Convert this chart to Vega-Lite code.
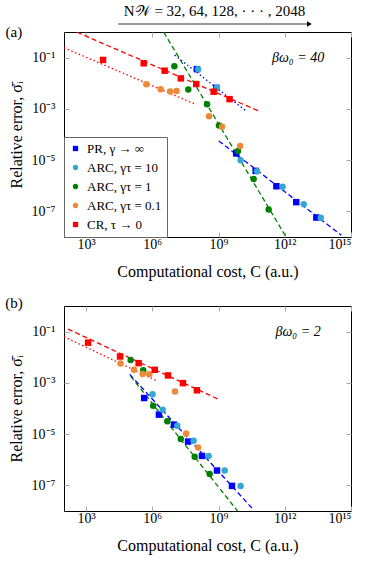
{
  "$schema": "https://vega.github.io/schema/vega-lite/v6.json",
  "padding": {"left": 4, "top": 3, "right": 4, "bottom": 4},
  "spacing": 15,
  "config": {
    "font": "Liberation Serif",
    "view": {"stroke": "black", "strokeWidth": 1},
    "axis": {"grid": false, "domain": false, "tickColor": "#aaaaaa", "tickSize": -5, "labelFontSize": 14, "titleFontSize": 16, "labelColor": "black", "titleColor": "black", "titleFontWeight": "normal"},
    "axisX": {"labelPadding": 5, "titlePadding": 12},
    "axisY": {"labelPadding": 14, "titlePadding": 7},
    "text": {"font": "Liberation Serif"}
  },
  "resolve": {"scale": {"color": "independent", "shape": "independent", "stroke": "independent", "strokeDash": "independent"}},
  "datasets": {
    "ptsA": [
      {"series": "PR, γ → ∞", "C": 1.047e8, "err": 3.548e-2},
      {"series": "PR, γ → ∞", "C": 7.943e8, "err": 6.607e-3},
      {"series": "PR, γ → ∞", "C": 6.310e9, "err": 1.820e-5},
      {"series": "PR, γ → ∞", "C": 4.786e10, "err": 3.802e-6},
      {"series": "PR, γ → ∞", "C": 4.169e11, "err": 9.550e-7},
      {"series": "PR, γ → ∞", "C": 3.311e12, "err": 2.291e-7},
      {"series": "PR, γ → ∞", "C": 2.692e13, "err": 5.754e-8},
      {"series": "ARC, γτ = 10", "C": 1.175e8, "err": 3.548e-2},
      {"series": "ARC, γτ = 10", "C": 8.511e8, "err": 6.607e-3},
      {"series": "ARC, γτ = 10", "C": 1.0e10, "err": 1.0e-5},
      {"series": "ARC, γτ = 10", "C": 5.495e10, "err": 3.715e-6},
      {"series": "ARC, γτ = 10", "C": 7.943e11, "err": 9.120e-7},
      {"series": "ARC, γτ = 10", "C": 7.244e12, "err": 1.905e-7},
      {"series": "ARC, γτ = 10", "C": 4.266e13, "err": 5.623e-8},
      {"series": "ARC, γτ = 1", "C": 1.0e7, "err": 4.571e-2},
      {"series": "ARC, γτ = 1", "C": 4.266e7, "err": 5.754e-3},
      {"series": "ARC, γτ = 1", "C": 3.020e8, "err": 1.514e-3},
      {"series": "ARC, γτ = 1", "C": 1.047e9, "err": 2.239e-4},
      {"series": "ARC, γτ = 1", "C": 7.586e9, "err": 2.291e-5},
      {"series": "ARC, γτ = 1", "C": 3.890e10, "err": 1.820e-6},
      {"series": "ARC, γτ = 1", "C": 1.862e11, "err": 1.175e-7},
      {"series": "ARC, γτ = 0.1", "C": 5.370e5, "err": 9.120e-3},
      {"series": "ARC, γτ = 0.1", "C": 2.399e6, "err": 5.888e-3},
      {"series": "ARC, γτ = 0.1", "C": 6.457e6, "err": 4.786e-3},
      {"series": "ARC, γτ = 0.1", "C": 1.259e7, "err": 5.012e-3},
      {"series": "ARC, γτ = 0.1", "C": 3.715e8, "err": 5.129e-4},
      {"series": "ARC, γτ = 0.1", "C": 1.445e9, "err": 1.995e-4},
      {"series": "ARC, γτ = 0.1", "C": 9.550e9, "err": 3.548e-5},
      {"series": "CR, τ → 0", "C": 5.888e3, "err": 8.128e-2},
      {"series": "CR, τ → 0", "C": 4.074e5, "err": 6.026e-2},
      {"series": "CR, τ → 0", "C": 3.631e6, "err": 3.090e-2},
      {"series": "CR, τ → 0", "C": 1.950e7, "err": 1.549e-2},
      {"series": "CR, τ → 0", "C": 9.772e7, "err": 9.333e-3},
      {"series": "CR, τ → 0", "C": 6.026e8, "err": 4.677e-3},
      {"series": "CR, τ → 0", "C": 3.162e9, "err": 2.399e-3}
    ],
    "linesA": [
      {"id": "a1", "series": "CR, τ → 0", "line": "fit", "C": 3.890e2, "err": 0.9772},
      {"id": "a1", "series": "CR, τ → 0", "line": "fit", "C": 7.762e10, "err": 7.762e-4},
      {"id": "a2", "series": "CR, τ → 0", "line": "reference", "C": 1.0e2, "err": 0.2432},
      {"id": "a2", "series": "CR, τ → 0", "line": "reference", "C": 8.318e7, "err": 1.549e-3},
      {"id": "a3", "series": "ARC, γτ = 1", "line": "fit", "C": 3.311e6, "err": 0.9772},
      {"id": "a3", "series": "ARC, γτ = 1", "line": "fit", "C": 1.148e12, "err": 1.0e-8},
      {"id": "a4", "series": "PR, γ → ∞", "line": "reference", "C": 1.023e7, "err": 0.1259},
      {"id": "a4", "series": "PR, γ → ∞", "line": "reference", "C": 1.820e10, "err": 8.128e-4},
      {"id": "a5", "series": "PR, γ → ∞", "line": "fit", "C": 1.023e9, "err": 5.623e-5},
      {"id": "a5", "series": "PR, γ → ∞", "line": "fit", "C": 3.631e14, "err": 1.175e-8}
    ],
    "ptsB": [
      {"series": "PR, γ → ∞", "C": 4.266e5, "err": 2.570e-4},
      {"series": "PR, γ → ∞", "C": 1.995e6, "err": 5.754e-5},
      {"series": "PR, γ → ∞", "C": 9.550e6, "err": 2.344e-5},
      {"series": "PR, γ → ∞", "C": 4.169e7, "err": 5.129e-6},
      {"series": "PR, γ → ∞", "C": 1.778e8, "err": 1.413e-6},
      {"series": "PR, γ → ∞", "C": 8.511e8, "err": 3.802e-7},
      {"series": "PR, γ → ∞", "C": 4.074e9, "err": 9.550e-8},
      {"series": "ARC, γτ = 10", "C": 1.023e6, "err": 3.631e-4},
      {"series": "ARC, γτ = 10", "C": 2.951e6, "err": 8.913e-5},
      {"series": "ARC, γτ = 10", "C": 1.349e7, "err": 2.138e-5},
      {"series": "ARC, γτ = 10", "C": 7.413e7, "err": 5.495e-6},
      {"series": "ARC, γτ = 10", "C": 3.548e8, "err": 1.413e-6},
      {"series": "ARC, γτ = 10", "C": 1.905e9, "err": 3.802e-7},
      {"series": "ARC, γτ = 10", "C": 1.0e10, "err": 9.550e-8},
      {"series": "ARC, γτ = 1", "C": 1.047e5, "err": 7.762e-3},
      {"series": "ARC, γτ = 1", "C": 3.890e5, "err": 3.090e-3},
      {"series": "ARC, γτ = 1", "C": 1.096e6, "err": 1.288e-4},
      {"series": "ARC, γτ = 1", "C": 4.786e6, "err": 3.162e-5},
      {"series": "ARC, γτ = 1", "C": 1.950e7, "err": 6.457e-6},
      {"series": "ARC, γτ = 1", "C": 8.318e7, "err": 1.318e-6},
      {"series": "ARC, γτ = 1", "C": 3.981e8, "err": 2.754e-7},
      {"series": "ARC, γτ = 0.1", "C": 3.631e4, "err": 5.754e-3},
      {"series": "ARC, γτ = 0.1", "C": 1.479e5, "err": 3.236e-3},
      {"series": "ARC, γτ = 0.1", "C": 3.631e5, "err": 2.239e-3},
      {"series": "ARC, γτ = 0.1", "C": 7.244e5, "err": 2.188e-3},
      {"series": "ARC, γτ = 0.1", "C": 1.072e7, "err": 4.571e-4},
      {"series": "ARC, γτ = 0.1", "C": 3.388e7, "err": 1.047e-5},
      {"series": "ARC, γτ = 0.1", "C": 1.202e8, "err": 3.020e-6},
      {"series": "CR, τ → 0", "C": 1.230e3, "err": 3.715e-2},
      {"series": "CR, τ → 0", "C": 3.467e4, "err": 1.072e-2},
      {"series": "CR, τ → 0", "C": 2.399e5, "err": 5.888e-3},
      {"series": "CR, τ → 0", "C": 1.288e6, "err": 3.236e-3},
      {"series": "CR, τ → 0", "C": 5.129e6, "err": 1.950e-3},
      {"series": "CR, τ → 0", "C": 2.455e7, "err": 9.772e-4},
      {"series": "CR, τ → 0", "C": 1.047e8, "err": 5.129e-4}
    ],
    "linesB": [
      {"id": "b1", "series": "CR, τ → 0", "line": "fit", "C": 1.514e2, "err": 0.1259},
      {"id": "b1", "series": "CR, τ → 0", "line": "fit", "C": 9.333e8, "err": 2.344e-4},
      {"id": "b2", "series": "CR, τ → 0", "line": "reference", "C": 1.0e2, "err": 6.310e-2},
      {"id": "b2", "series": "CR, τ → 0", "line": "reference", "C": 1.820e6, "err": 1.148e-3},
      {"id": "b3", "series": "ARC, γτ = 1", "line": "fit", "C": 1.047e5, "err": 1.820e-3},
      {"id": "b3", "series": "ARC, γτ = 1", "line": "fit", "C": 7.244e9, "err": 1.0e-8},
      {"id": "b4", "series": "PR, γ → ∞", "line": "fit", "C": 9.550e4, "err": 2.138e-3},
      {"id": "b4", "series": "PR, γ → ∞", "line": "fit", "C": 3.631e10, "err": 1.175e-8}
    ]
  },
  "vconcat": [
    {
      "width": 287,
      "height": 205,
      "layer": [
        {
          "data": {"name": "linesA"},
          "mark": {"type": "line", "strokeWidth": 1.3, "clip": true},
          "encoding": {
            "x": {"field": "C", "type": "quantitative", "scale": {"type": "log", "domain": [100, 1e15]}, "axis": null},
            "y": {"field": "err", "type": "quantitative", "scale": {"type": "log", "domain": [1e-8, 1]}, "axis": null},
            "detail": {"field": "id"},
            "stroke": {"field": "series", "type": "nominal", "scale": {"domain": ["PR, γ → ∞", "ARC, γτ = 1", "CR, τ → 0"], "range": ["#0000ff", "#008000", "#ff0000"]}, "legend": null},
            "strokeDash": {"field": "line", "type": "nominal", "scale": {"domain": ["fit", "reference"], "range": [[5, 3], [1.5, 2.5]]}, "legend": null}
          }
        },
        {
          "data": {"name": "ptsA"},
          "mark": {"type": "point", "filled": true, "opacity": 1, "size": 42},
          "encoding": {
            "x": {"field": "C", "type": "quantitative", "scale": {"type": "log", "domain": [100, 1e15]},
              "axis": {"orient": "bottom", "values": [1e3, 1e6, 1e9, 1e12, 1e15], "title": "Computational cost, C (a.u.)", "labelExpr": "round(log(datum.value)/LN10)==3?'10³':round(log(datum.value)/LN10)==6?'10⁶':round(log(datum.value)/LN10)==9?'10⁹':round(log(datum.value)/LN10)==12?'10¹²':'10¹⁵'"}},
            "y": {"field": "err", "type": "quantitative", "scale": {"type": "log", "domain": [1e-8, 1]},
              "axis": {"orient": "left", "values": [1e-1, 1e-3, 1e-5, 1e-7], "title": "Relative error, σ̄ᵢ", "labelExpr": "round(log(datum.value)/LN10)==-1?'10⁻¹':round(log(datum.value)/LN10)==-3?'10⁻³':round(log(datum.value)/LN10)==-5?'10⁻⁵':'10⁻⁷'"}},
            "color": {"field": "series", "type": "nominal", "sort": null, "scale": {"domain": ["PR, γ → ∞", "ARC, γτ = 10", "ARC, γτ = 1", "ARC, γτ = 0.1", "CR, τ → 0"], "range": ["#0000ff", "#33a8d4", "#008000", "#ec8a3a", "#ff0000"]},
              "legend": {"orient": "bottom-left", "offset": 0, "title": null, "strokeColor": "#666666", "fillColor": "white", "padding": 5, "labelFontSize": 13, "symbolSize": 28, "rowPadding": 5, "labelOffset": 5}},
            "shape": {"field": "series", "type": "nominal", "sort": null, "scale": {"domain": ["PR, γ → ∞", "ARC, γτ = 10", "ARC, γτ = 1", "ARC, γτ = 0.1", "CR, τ → 0"], "range": ["square", "circle", "circle", "circle", "square"]},
              "legend": {"orient": "bottom-left", "offset": 0, "title": null, "strokeColor": "#666666", "fillColor": "white", "padding": 5, "labelFontSize": 13, "symbolSize": 28, "rowPadding": 5, "labelOffset": 5}}
          }
        },
        {
          "data": {"values": [{}]},
          "mark": {"type": "text", "fontSize": 14, "fontStyle": "italic", "align": "center", "baseline": "middle", "clip": false},
          "encoding": {
            "x": {"datum": 4.0e12, "type": "quantitative", "axis": {"orient": "top", "values": [1e3, 1e6, 1e9, 1e12, 1e15], "labels": false, "title": null}},
            "y": {"datum": 0.1, "type": "quantitative", "axis": {"orient": "right", "values": [1e-1, 1e-3, 1e-5, 1e-7], "labels": false, "title": null}},
            "text": {"value": "βω₀ = 40"}
          }
        },
        {
          "data": {"values": [{}]},
          "mark": {"type": "text", "fontSize": 15, "align": "center", "baseline": "middle", "clip": false},
          "encoding": {
            "x": {"datum": 0.537, "type": "quantitative", "axis": null},
            "y": {"datum": 1.0, "type": "quantitative", "axis": null},
            "text": {"value": "(a)"}
          }
        },
        {
          "data": {"values": [{}]},
          "mark": {"type": "text", "fontSize": 15, "align": "center", "baseline": "middle", "clip": false},
          "encoding": {
            "x": {"datum": 6.607e8, "type": "quantitative", "axis": null},
            "y": {"datum": 6.6, "type": "quantitative", "axis": null},
            "text": {"value": "N𝒲 = 32, 64, 128, · · · , 2048"}
          }
        },
        {
          "data": {"values": [{}]},
          "mark": {"type": "rule", "color": "#333333", "strokeWidth": 1, "clip": false},
          "encoding": {
            "x": {"datum": 2.818e4, "type": "quantitative", "axis": null},
            "x2": {"datum": 1.3e13},
            "y": {"datum": 2.05, "type": "quantitative", "axis": null}
          }
        },
        {
          "data": {"values": [{}]},
          "mark": {"type": "point", "shape": "triangle-right", "filled": true, "color": "black", "size": 30, "opacity": 1, "clip": false},
          "encoding": {
            "x": {"datum": 1.3e13, "type": "quantitative", "axis": null},
            "y": {"datum": 2.05, "type": "quantitative", "axis": null}
          }
        }
      ],
      "resolve": {"axis": {"x": "independent", "y": "independent"}}
    },
    {
      "width": 287,
      "height": 205,
      "layer": [
        {
          "data": {"name": "linesB"},
          "mark": {"type": "line", "strokeWidth": 1.3, "clip": true},
          "encoding": {
            "x": {"field": "C", "type": "quantitative", "scale": {"type": "log", "domain": [100, 1e15]}, "axis": null},
            "y": {"field": "err", "type": "quantitative", "scale": {"type": "log", "domain": [1e-8, 1]}, "axis": null},
            "detail": {"field": "id"},
            "stroke": {"field": "series", "type": "nominal", "scale": {"domain": ["PR, γ → ∞", "ARC, γτ = 1", "CR, τ → 0"], "range": ["#0000ff", "#008000", "#ff0000"]}, "legend": null},
            "strokeDash": {"field": "line", "type": "nominal", "scale": {"domain": ["fit", "reference"], "range": [[5, 3], [1.5, 2.5]]}, "legend": null}
          }
        },
        {
          "data": {"name": "ptsB"},
          "mark": {"type": "point", "filled": true, "opacity": 1, "size": 42},
          "encoding": {
            "x": {"field": "C", "type": "quantitative", "scale": {"type": "log", "domain": [100, 1e15]},
              "axis": {"orient": "bottom", "values": [1e3, 1e6, 1e9, 1e12, 1e15], "title": "Computational cost, C (a.u.)", "labelExpr": "round(log(datum.value)/LN10)==3?'10³':round(log(datum.value)/LN10)==6?'10⁶':round(log(datum.value)/LN10)==9?'10⁹':round(log(datum.value)/LN10)==12?'10¹²':'10¹⁵'"}},
            "y": {"field": "err", "type": "quantitative", "scale": {"type": "log", "domain": [1e-8, 1]},
              "axis": {"orient": "left", "values": [1e-1, 1e-3, 1e-5, 1e-7], "title": "Relative error, σ̄ᵢ", "labelExpr": "round(log(datum.value)/LN10)==-1?'10⁻¹':round(log(datum.value)/LN10)==-3?'10⁻³':round(log(datum.value)/LN10)==-5?'10⁻⁵':'10⁻⁷'"}},
            "color": {"field": "series", "type": "nominal", "scale": {"domain": ["PR, γ → ∞", "ARC, γτ = 10", "ARC, γτ = 1", "ARC, γτ = 0.1", "CR, τ → 0"], "range": ["#0000ff", "#33a8d4", "#008000", "#ec8a3a", "#ff0000"]}, "legend": null},
            "shape": {"field": "series", "type": "nominal", "scale": {"domain": ["PR, γ → ∞", "ARC, γτ = 10", "ARC, γτ = 1", "ARC, γτ = 0.1", "CR, τ → 0"], "range": ["square", "circle", "circle", "circle", "square"]}, "legend": null}
          }
        },
        {
          "data": {"values": [{}]},
          "mark": {"type": "text", "fontSize": 14, "fontStyle": "italic", "align": "center", "baseline": "middle", "clip": false},
          "encoding": {
            "x": {"datum": 4.0e12, "type": "quantitative", "axis": {"orient": "top", "values": [1e3, 1e6, 1e9, 1e12, 1e15], "labels": false, "title": null}},
            "y": {"datum": 0.1, "type": "quantitative", "axis": {"orient": "right", "values": [1e-1, 1e-3, 1e-5, 1e-7], "labels": false, "title": null}},
            "text": {"value": "βω₀ = 2"}
          }
        },
        {
          "data": {"values": [{}]},
          "mark": {"type": "text", "fontSize": 15, "align": "center", "baseline": "middle", "clip": false},
          "encoding": {
            "x": {"datum": 0.537, "type": "quantitative", "axis": null},
            "y": {"datum": 1.26, "type": "quantitative", "axis": null},
            "text": {"value": "(b)"}
          }
        }
      ],
      "resolve": {"axis": {"x": "independent", "y": "independent"}}
    }
  ]
}
